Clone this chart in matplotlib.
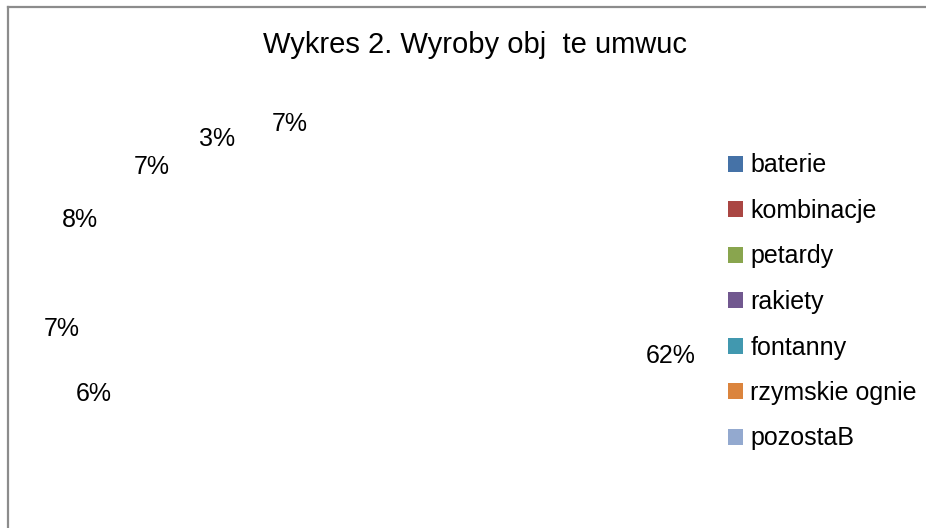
import matplotlib.pyplot as plt
from matplotlib.patches import Patch
from matplotlib.lines import Line2D

# dane z wykresu
categories = ['baterie', 'kombinacje', 'petardy', 'rakiety', 'fontanny', 'rzymskie ognie', 'pozostaB']
shares = [62, 6, 7, 8, 7, 3, 7]
colors = ['#4572A7', '#AA4643', '#89A54E', '#71588F', '#4198AF', '#DB843D', '#93A9CF']
title = 'Wykres 2. Wyroby obj  te umwuc'

# przesuniecia etykiet w px (x w prawo, y w dol) - Excel ustawia je troche inaczej
label_nudge = [(5, 6), (-23, 6), (-2, 6), (14, -21), (17, -2), (6, 5), (-13, 11)]

plt.rcParams['font.family'] = ['Liberation Sans', 'DejaVu Sans']


def draw_frame(fig):
    # szara ramka tylko z lewej i u gory
    x0 = 7.5 / 926
    y0 = 1 - 7 / 528
    fig.add_artist(Line2D([x0, x0], [0, y0], color='#8c8c8c', lw=1.6, transform=fig.transFigure))
    fig.add_artist(Line2D([x0, 1], [y0, y0], color='#8c8c8c', lw=1.6, transform=fig.transFigure))


def draw_pie(ax):
    # kawalki niewidoczne, widac tylko etykiety procentowe
    wedges, texts = ax.pie(shares, colors=colors, startangle=90, counterclock=False,
                           radius=0.8, labels=[f'{v}%' for v in shares], labeldistance=1.25,
                           textprops=dict(fontsize=18, ha='center', va='center'))
    for w in wedges:
        w.set_visible(False)
    ax.set_aspect('auto')
    ax.set_xlim(-1, 1)
    ax.set_ylim(-1, 1)
    ax.axis('off')
    # px -> jednostki osi (os ma 632 x 352 px na zakres 2)
    for t, (dx, dy) in zip(texts, label_nudge):
        x, y = t.get_position()
        t.set_position((x + dx * 2 / 632, y - dy * 2 / 352))


def draw_legend(fig):
    handles = [Patch(facecolor=c, edgecolor='none') for c in colors]
    fig.legend(handles, categories, loc='center left', bbox_to_anchor=(728 / 926, 1 - 302 / 528),
               frameon=False, fontsize=18, handlelength=0.6, handleheight=0.6,
               handletextpad=0.3, labelspacing=0.86, borderpad=0, borderaxespad=0)


def main():
    fig = plt.figure(figsize=(9.26, 5.28), dpi=100)
    ax = fig.add_axes([56 / 926, 1 - 461 / 528, 632 / 926, 352 / 528])
    draw_pie(ax)
    draw_legend(fig)
    fig.text(475 / 926, 1 - 53 / 528, title, fontsize=21, ha='center', va='baseline')
    draw_frame(fig)
    fig.savefig('out.png', dpi=100)


if __name__ == '__main__':
    main()
